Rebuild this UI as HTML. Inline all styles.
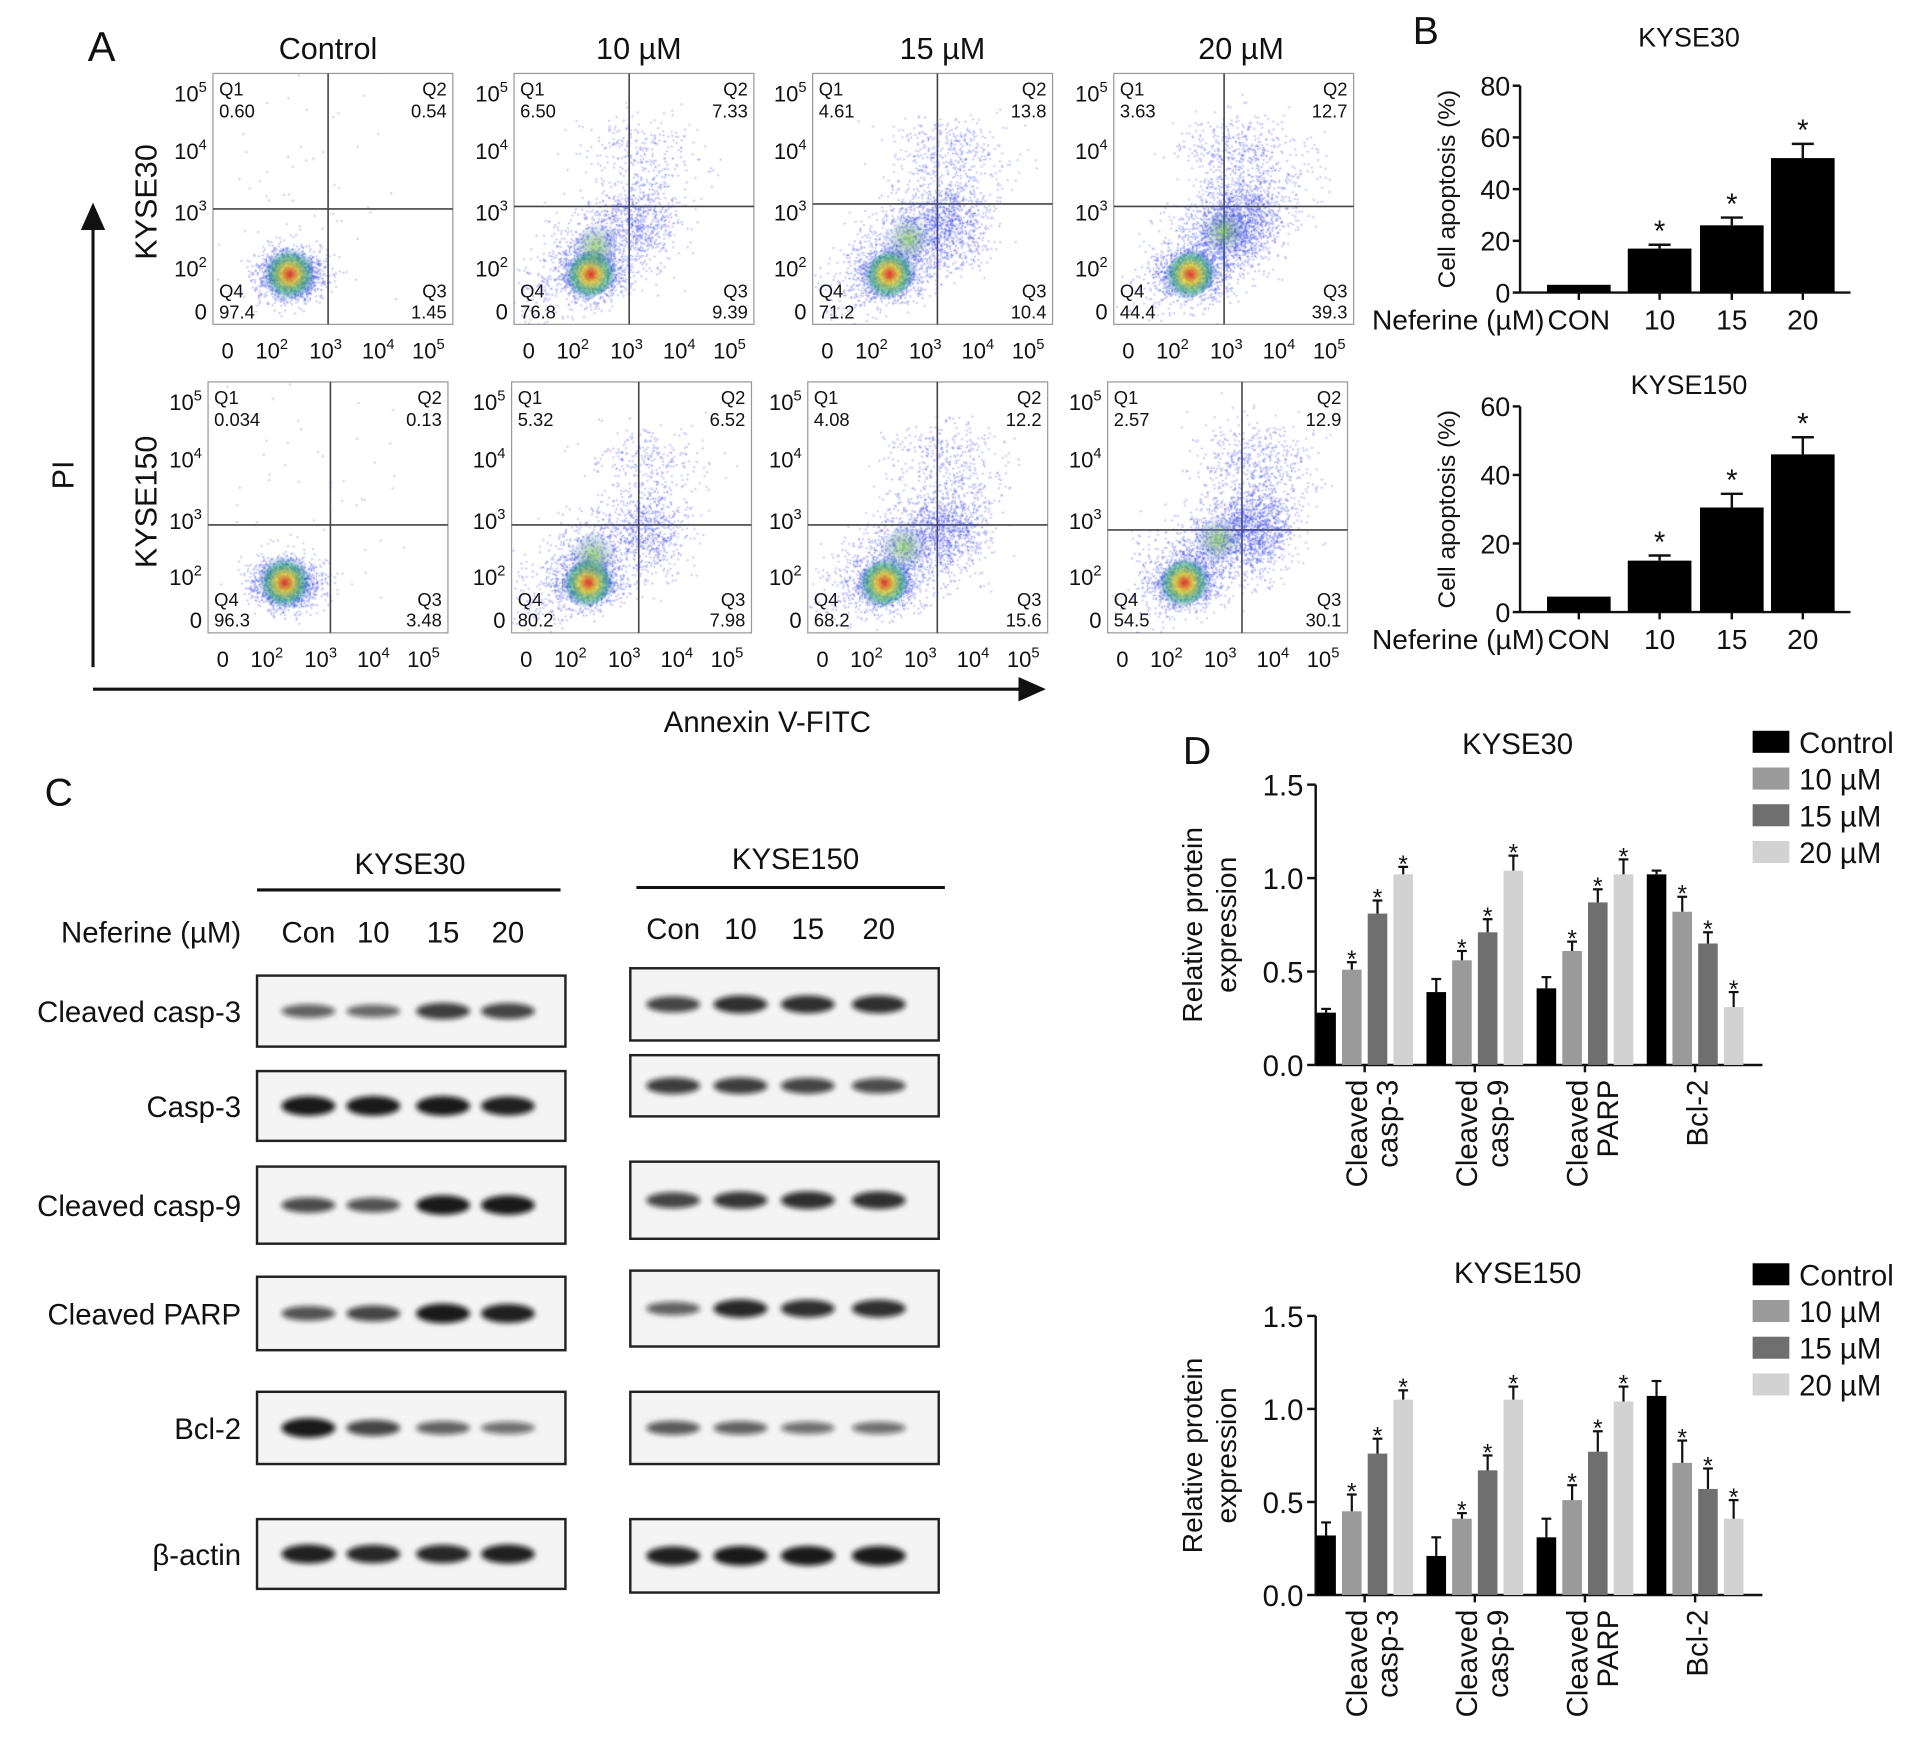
<!DOCTYPE html>
<html><head><meta charset="utf-8"><style>
html,body{margin:0;padding:0;background:#fff;}
#wrap{position:relative;width:1563px;height:1419px;transform:scale(1.2239,1.2241);transform-origin:0 0;overflow:hidden;background:#fff;}
svg{position:absolute;left:0;top:0;}
canvas{position:absolute;}
text{font-family:"Liberation Sans",Arial,sans-serif;fill:#111;}
</style></head><body>
<div id="wrap">
<svg id="s" width="1563" height="1419" viewBox="0 0 1563 1419">
<defs>
<filter id="blur" x="-30%" y="-100%" width="160%" height="300%"><feGaussianBlur stdDeviation="2.2"/></filter>
<marker id="arr" markerWidth="10" markerHeight="10" refX="8" refY="5" orient="auto"><path d="M0,1 L9,5 L0,9 z" fill="#111"/></marker>
</defs>
</svg>
</div>
<script>
// ---------- data ----------
const flowCols=["Control","10 µM","15 µM","20 µM"];
const flowRows=["KYSE30","KYSE150"];
const q1=[["0.60","6.50","4.61","3.63"],["0.034","5.32","4.08","2.57"]];
const q2=[["0.54","7.33","13.8","12.7"],["0.13","6.52","12.2","12.9"]];
const q3=[["1.45","9.39","10.4","39.3"],["3.48","7.98","15.6","30.1"]];
const q4=[["97.4","76.8","71.2","44.4"],["96.3","80.2","68.2","54.5"]];
const bCats=["CON","10","15","20"];
const b30=[3,17,26,52], b30err=[0,1.5,3,5.5];
const b150=[4.5,15,30.5,46], b150err=[0,1.5,4,5];
const dCats=[["Cleaved","casp-3"],["Cleaved","casp-9"],["Cleaved","PARP"],["","Bcl-2"]];
const dSeries=["Control","10 µM","15 µM","20 µM"];
const d30=[[0.28,0.39,0.41,1.02],[0.51,0.56,0.61,0.82],[0.81,0.71,0.87,0.65],[1.02,1.04,1.02,0.31]];
const d30err=[[0.02,0.07,0.06,0.02],[0.04,0.05,0.05,0.08],[0.07,0.07,0.07,0.06],[0.04,0.08,0.08,0.08]];
const d150=[[0.32,0.21,0.31,1.07],[0.45,0.41,0.51,0.71],[0.76,0.67,0.77,0.57],[1.05,1.05,1.04,0.41]];
const d150err=[[0.07,0.1,0.1,0.08],[0.09,0.03,0.08,0.12],[0.08,0.08,0.11,0.11],[0.05,0.07,0.08,0.1]];
const blotLabels=["Cleaved casp-3","Casp-3","Cleaved casp-9","Cleaved PARP","Bcl-2","β-actin"];
const blot30=[[0.5,0.45,0.75,0.7],[1,1,1,0.95],[0.65,0.6,1,1],[0.6,0.7,1,0.95],[1,0.7,0.5,0.4],[0.95,0.9,0.9,0.95]];
const blot150=[[0.7,0.85,0.85,0.85],[0.75,0.75,0.7,0.65],[0.7,0.8,0.85,0.85],[0.5,0.9,0.85,0.85],[0.55,0.5,0.4,0.4],[0.95,1,1,1]];

const S=document.getElementById('s'),W=document.getElementById('wrap');
const NS="http://www.w3.org/2000/svg";
function el(t,a,txt){const e=document.createElementNS(NS,t);for(const k in a)e.setAttribute(k,a[k]);if(txt!==undefined)e.textContent=txt;S.appendChild(e);return e;}
function T(x,y,s,size,anchor,name,extra){const a={x:x,y:y,'font-size':size,'text-anchor':anchor||'middle'};if(extra)for(const k in extra)a[k]=extra[k];const e=el('text',a,s);return e;}
function L(x1,y1,x2,y2,w,name,c){const e=el('line',{x1:x1,y1:y1,x2:x2,y2:y2,stroke:c||'#111','stroke-width':w||1.5});return e;}
function R(x,y,w,h,f,name){const e=el('rect',{x:x,y:y,width:w,height:h,fill:f});return e;}

// ---------- panel letters ----------
T(83,50,"A",34,'middle',"panel-a-label");
T(1165,36,"B",32,'middle',"panel-b-label");
T(48,658,"C",32,'middle',"panel-c-label");
T(978,624,"D",32,'middle',"panel-d-label");

// ---------- panel A ----------
const boxX=[[174,420,664,910],[170,418,660,905]], boxY=[60,312];
const vq=[[0.48,0.48,0.52,0.46],[0.51,0.53,0.54,0.56]], hq=[[0.54,0.53,0.52,0.53],[0.57,0.57,0.57,0.59]];
const colX=[268,522,770,1014];
flowCols.forEach((c,i)=>T(colX[i],48,c,25,'middle','column-title-'+i));
flowRows.forEach((r,i)=>T(0,0,r,25,'middle','row-label-'+r.toLowerCase(),{transform:`translate(128,${i?410:165}) rotate(-90)`}));
T(0,0,"PI",25,'middle','y-axis-title-pi',{transform:'translate(60,388) rotate(-90)'});
let a1=L(76,545,76,168,2.5,'pi-axis-arrow');a1.setAttribute('marker-end','url(#arr)');
let a2=L(76,563,852,563,2.5,'annexin-axis-arrow');a2.setAttribute('marker-end','url(#arr)');
T(627,598,"Annexin V-FITC",24,'middle','x-axis-title-annexin');
let seed=7;function rnd(){seed=(seed*16807)%2147483647;return seed/2147483647;}
function gauss(){return Math.sqrt(-2*Math.log(rnd()+1e-9))*Math.cos(2*Math.PI*rnd());}
for(let r=0;r<2;r++)for(let c=0;c<4;c++){
  const x0=boxX[r][c],y0=boxY[r],w=196,h=205,id=`flow-${r}-${c}`;
  const cv=document.createElement('canvas');cv.width=w;cv.height=h;cv.style.left=x0+'px';cv.style.top=y0+'px';
  
  W.appendChild(cv);const g=cv.getContext('2d');
  const vx=vq[r][c]*w,hy=hq[r][c]*h;
  const cl=[[0.32,0.8,0.07,0.05,c==0?1500:900,'core']];
  if(c>0){cl.push([0.28+c*0.06,0.72-c*0.03,0.1,0.07,700+c*250,'diag']);cl.push([vq[r][c]+0.05,0.6,0.08,0.09,300+c*200,'mid']);cl.push([vq[r][c]+0.03,0.3,0.12,0.07,150+c*80,'up']);}
  else cl.push([0.4,0.5,0.2,0.25,60,'sparse']);
  g.fillStyle='rgba(60,70,230,0.45)';
  cl.forEach(k=>{for(let i=0;i<k[4];i++){let px=(k[0]+gauss()*k[2])*w,py=(k[1]+gauss()*k[3])*h;if(k[5]=='diag'){const t=gauss()*0.6;px+=t*40;py-=t*40;}g.fillRect(px,py,1.3,1.3);}});
  const cx=cl[0][0]*w,cy=cl[0][1]*h;
  const gr=g.createRadialGradient(cx,cy,1,cx,cy,22);gr.addColorStop(0,'rgba(230,60,30,0.9)');gr.addColorStop(0.3,'rgba(230,210,40,0.8)');gr.addColorStop(0.65,'rgba(40,170,110,0.6)');gr.addColorStop(1,'rgba(40,80,200,0)');
  g.fillStyle=gr;g.beginPath();g.ellipse(cx,cy,c==0?30:24,c==0?22:18,-0.6,0,7);g.fill();
  if(c>0){const dx=(0.28+c*0.06)*w,dy=(0.72-c*0.03)*h;const g2=g.createRadialGradient(dx,dy,1,dx,dy,20);g2.addColorStop(0,'rgba(120,200,60,0.6)');g2.addColorStop(1,'rgba(40,80,200,0)');g.fillStyle=g2;g.beginPath();g.ellipse(dx,dy,30,16,-0.8,0,7);g.fill();}
  const b=el('rect',{x:x0,y:y0,width:w,height:h,fill:'none',stroke:'#999','stroke-width':1});
  L(x0+vx,y0,x0+vx,y0+h,1.3,id+'-vgate','#444');L(x0,y0+hy,x0+w,y0+hy,1.3,id+'-hgate','#444');
  T(x0+5,y0+18,"Q1",15,'start',id+'-q1');T(x0+5,y0+36,q1[r][c],15,'start',id+'-q1-val');
  T(x0+w-5,y0+18,"Q2",15,'end',id+'-q2');T(x0+w-5,y0+36,q2[r][c],15,'end',id+'-q2-val');
  T(x0+5,y0+h-22,"Q4",15,'start',id+'-q4');T(x0+5,y0+h-5,q4[r][c],15,'start',id+'-q4-val');
  T(x0+w-5,y0+h-22,"Q3",15,'end',id+'-q3');T(x0+w-5,y0+h-5,q3[r][c],15,'end',id+'-q3-val');
  [[15,"5"],[62,"4"],[112,"3"],[158,"2"]].forEach((t,i)=>{const e=T(x0-5,y0+t[0]+8,"10",18,'end',id+'-ytick-'+i);const s=document.createElementNS(NS,'tspan');s.setAttribute('dy','-8');s.setAttribute('font-size','12');s.textContent=t[1];e.appendChild(s);});
  T(x0-5,y0+h-4,"0",18,'end',id+'-ytick-0');
  T(x0+12,y0+h+28,"0",18,'middle',id+'-xtick-0');
  [[48,"2"],[92,"3"],[135,"4"],[176,"5"]].forEach((t,i)=>{const e=T(x0+t[0],y0+h+28,"10",18,'middle',id+'-xtick-'+(i+1));const s=document.createElementNS(NS,'tspan');s.setAttribute('dy','-8');s.setAttribute('font-size','12');s.textContent=t[1];e.appendChild(s);});
}

// ---------- panel B ----------
function barB(title,tx,ty,y0,yTop,ymax,ticks,vals,errs,tag){
  const xL=1242,xR=1512,cx=[1290,1356,1415,1473],bw=52;
  const ys=v=>y0-(v/ymax)*(y0-yTop);
  T(1380,ty,title,22,'middle',tag+'-title');
  L(xL,yTop,xL,y0,2,tag+'-y-axis');L(xL,y0,xR,y0,2,tag+'-x-axis');
  ticks.forEach(t=>{L(xL-6,ys(t),xL,ys(t),2,tag+'-ytick-mark');T(xL-8,ys(t)+8,String(t),22,'end',tag+'-ytick-'+t);});
  T(0,0,"Cell apoptosis (%)",20,'middle',tag+'-y-title',{transform:`translate(1189,${(y0+yTop)/2}) rotate(-90)`});
  vals.forEach((v,i)=>{R(cx[i]-bw/2,ys(v),bw,y0-ys(v),'#000',tag+'-bar-'+bCats[i]);
    if(errs[i]>0){L(cx[i],ys(v),cx[i],ys(v+errs[i]),2,tag+'-err-'+i);L(cx[i]-9,ys(v+errs[i]),cx[i]+9,ys(v+errs[i]),2,tag+'-errcap-'+i);
      T(cx[i],ys(v+errs[i])-3,"*",24,'middle',tag+'-star-'+i);}
    L(cx[i],y0,cx[i],y0+6,2,tag+'-xtick-mark');
    T(cx[i],y0+30,bCats[i],23,'middle',tag+'-xlabel-'+i);});
  T(1262,y0+30,"Neferine (µM)",23,'end',tag+'-x-title');
}
barB("KYSE30",0,38,239,70,80,[0,20,40,60,80],b30,b30err,'b-kyse30');
barB("KYSE150",0,322,500,332,60,[0,20,40,60],b150,b150err,'b-kyse150');

// ---------- panel C ----------
T(335,714,"KYSE30",24,'middle','blot-kyse30-title');L(210,727,458,727,2.5,'blot-kyse30-rule');
T(650,710,"KYSE150",24,'middle','blot-kyse150-title');L(520,725,772,725,2.5,'blot-kyse150-rule');
T(197,770,"Neferine (µM)",24,'end','blot-neferine-label');
const lanesL=[252,305,362,415],lanesR=[550,605,660,718],laneTxt=["Con","10","15","20"];
laneTxt.forEach((t,i)=>{T(lanesL[i],770,t,24,'middle','blot-kyse30-lane-'+i);T(lanesR[i],767,t,24,'middle','blot-kyse150-lane-'+i);});
const rowL=[[797,58],[875,57],[953,63],[1043,60],[1137,59],[1241,57]],rowR=[[791,59],[862,50],[949,63],[1038,62],[1137,59],[1241,60]];
blotLabels.forEach((lab,i)=>{
  T(197,rowL[i][0]+rowL[i][1]/2+9,lab,24,'end','blot-label-'+i);
  [[210,rowL[i],lanesL,blot30,'kyse30'],[515,rowR[i],lanesR,blot150,'kyse150']].forEach(p=>{
    const f=el('rect',{x:p[0],y:p[1][0],width:252,height:p[1][1],fill:'#f4f4f4',stroke:'#222','stroke-width':2});
    
    p[2].forEach((lx,j)=>{const v=p[3][i][j];const e=el('ellipse',{cx:lx,cy:p[1][0]+p[1][1]/2,rx:22,ry:3+v*5,fill:'#111','fill-opacity':0.35+v*0.6,filter:'url(#blur)'});
      });
  });
});

// ---------- panel D ----------
const dCols=['#000','#9a9a9a','#6f6f6f','#d2d2d2'];
function barD(title,ty,y0,yTop,vals,errs,tag,legY){
  const xL=1075,xR=1440,gx=[1115,1205,1295,1385],bw=16,step=21;
  const ys=v=>y0-(v/1.5)*(y0-yTop);
  T(1240,ty,title,24,'middle',tag+'-title');
  L(xL,yTop,xL,y0,2,tag+'-y-axis');L(xL,y0,xR,y0,2,tag+'-x-axis');
  [0,0.5,1.0,1.5].forEach(t=>{L(xL-7,ys(t),xL,ys(t),2,tag+'-ytick-mark');T(xL-10,ys(t)+9,t.toFixed(1),24,'end',tag+'-ytick-'+t);});
  T(0,0,"Relative protein",23,'middle',tag+'-y-title-1',{transform:`translate(982,${(y0+yTop)/2}) rotate(-90)`});
  T(0,0,"expression",23,'middle',tag+'-y-title-2',{transform:`translate(1010,${(y0+yTop)/2}) rotate(-90)`});
  dCats.forEach((c,g)=>{
    for(let s=0;s<4;s++){const v=vals[s][g],e=errs[s][g],x=gx[g]+(s-1.5)*step;
      R(x-bw/2,ys(v),bw,y0-ys(v),dCols[s],`${tag}-bar-${g}-${s}`);
      L(x,ys(v),x,ys(v+e),1.8,`${tag}-err-${g}-${s}`);L(x-4,ys(v+e),x+4,ys(v+e),1.8,`${tag}-errcap-${g}-${s}`);
      if(s>0)T(x,ys(v+e)+4,"*",20,'middle',`${tag}-star-${g}-${s}`);}
    L(gx[g],y0,gx[g],y0+6,2,tag+'-xtick-mark');
    if(c[0])T(0,0,c[0],24,'end',`${tag}-xlabel-${g}-a`,{transform:`translate(${gx[g]+2},${y0+12}) rotate(-90)`});
    T(0,0,c[1],24,'end',`${tag}-xlabel-${g}-b`,{transform:`translate(${gx[g]+(c[0]?27:10)},${y0+12}) rotate(-90)`});
  });
  dSeries.forEach((s,i)=>{R(1432,legY+i*30-10,30,18,dCols[i],tag+'-legend-swatch-'+i);T(1470,legY+i*30+8,s,24,'start',tag+'-legend-'+i);});
}
barD("KYSE30",616,870,641,d30,d30err,'d-kyse30',607);
barD("KYSE150",1048,1303,1075,d150,d150err,'d-kyse150',1042);
</script>
</body></html>
